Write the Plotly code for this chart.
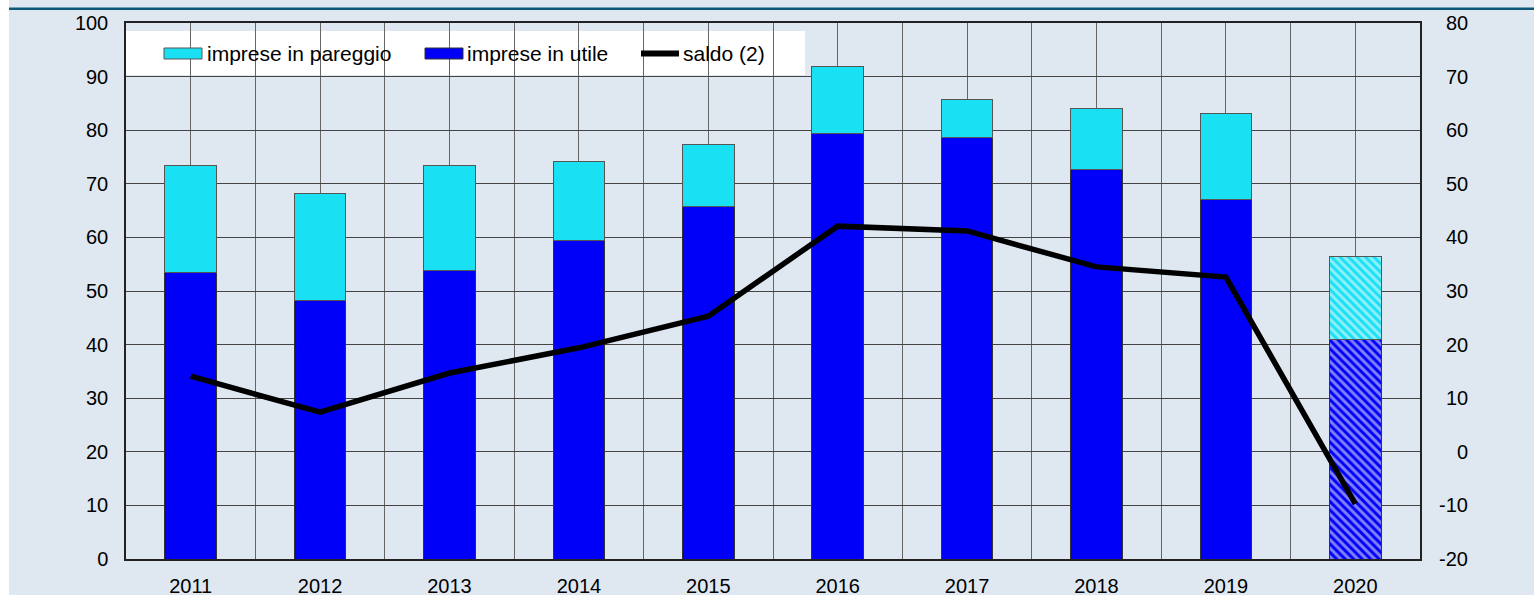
import plotly.graph_objects as go

years = ["2011", "2012", "2013", "2014", "2015", "2016", "2017", "2018", "2019", "2020"]
totale = [73.5, 68.1, 73.5, 74.1, 77.4, 91.8, 85.8, 84.0, 83.2, 56.5]
utile = [53.5, 48.3, 53.9, 59.5, 65.7, 79.3, 78.7, 72.6, 67.0, 41.0]
pareggio = [round(t - u, 1) for t, u in zip(totale, utile)]
saldo = [14.1, 7.4, 14.7, 19.4, 25.3, 42.1, 41.2, 34.5, 32.6, -9.7]
left_ticks = list(range(0, 101, 10))
right_ticks = list(range(-20, 81, 10))

CYAN = "#1ae0f4"
BLUE = "#0000f8"
FONT = "Liberation Sans, Arial, sans-serif"

xs = list(range(len(years)))
patterns = ["" if y != "2020" else "\\" for y in years]

fig = go.Figure()
fig.add_trace(go.Bar(
    x=xs, y=utile, name="imprese in utile", width=0.4,
    marker=dict(color=BLUE, line=dict(color="#333333", width=1),
                pattern=dict(shape=patterns, fgcolor="white", size=6, solidity=0.5)),
    showlegend=False,
))
fig.add_trace(go.Bar(
    x=xs, y=pareggio, name="imprese in pareggio", width=0.4,
    marker=dict(color=CYAN, line=dict(color="#555555", width=1),
                pattern=dict(shape=patterns, fgcolor="white", size=6, solidity=0.5)),
    showlegend=False,
))
fig.add_trace(go.Scatter(
    x=xs, y=saldo, name="saldo (2)", mode="lines", yaxis="y2",
    line=dict(color="black", width=5.5), showlegend=False,
))

W, H = 1534, 596
PW, PH = 1294, 536
L, T = 126, 23


def px(xp):
    return (xp - L) / PW


def py(yp):
    return (T + PH - yp) / PH


shapes = [
    dict(type="rect", xref="paper", yref="paper", x0=px(9), x1=px(W), y0=py(595), y1=py(0),
         fillcolor="#dfe8f1", line=dict(width=0), layer="below"),
    dict(type="line", xref="paper", yref="paper", x0=px(9), x1=px(W), y0=py(8.7), y1=py(8.7),
         line=dict(color="#0f5878", width=2.5)),
    dict(type="rect", xref="paper", yref="paper", x0=0, x1=px(805), y0=py(75), y1=py(31),
         fillcolor="white", line=dict(width=0), layer="between"),
    dict(type="rect", xref="paper", yref="paper", x0=px(164), x1=px(202), y0=py(59), y1=py(48),
         fillcolor=CYAN, line=dict(color="#555555", width=1)),
    dict(type="rect", xref="paper", yref="paper", x0=px(425), x1=px(463), y0=py(59), y1=py(48),
         fillcolor=BLUE, line=dict(color="#333333", width=1)),
    dict(type="line", xref="paper", yref="paper", x0=px(641), x1=px(679), y0=py(53.5), y1=py(53.5),
         line=dict(color="black", width=6)),
]

annotations = [
    dict(text="imprese in pareggio", xref="paper", yref="paper", x=px(205), y=py(53.5),
         xanchor="left", yanchor="middle", showarrow=False, font=dict(size=21, color="black", family=FONT)),
    dict(text="imprese in utile", xref="paper", yref="paper", x=px(465), y=py(53.5),
         xanchor="left", yanchor="middle", showarrow=False, font=dict(size=21, color="black", family=FONT)),
    dict(text="saldo (2)", xref="paper", yref="paper", x=px(681), y=py(53.5),
         xanchor="left", yanchor="middle", showarrow=False, font=dict(size=21, color="black", family=FONT)),
]
for v in right_ticks:
    annotations.append(dict(text=str(v), xref="paper", yref="y2", x=px(1470), y=v,
                            xanchor="right", yanchor="middle", showarrow=False,
                            font=dict(size=20, color="black", family=FONT)))

fig.update_layout(
    width=W, height=H, autosize=False,
    margin=dict(l=L, r=W - L - PW, t=T, b=H - T - PH),
    paper_bgcolor="white", plot_bgcolor="white",
    barmode="stack", bargap=0.6,
    font=dict(family=FONT, size=20, color="black"),
    xaxis=dict(
        range=[-0.5, len(years) - 0.5], tickvals=xs, ticktext=years, automargin=False,
        showgrid=True, gridcolor="#666666", gridwidth=1,
        showline=True, linecolor="#222222", linewidth=1.5, mirror=True,
        ticks="", ticklabelstandoff=8, zeroline=False,
        minor=dict(tickvals=[i + 0.5 for i in xs[:-1]], showgrid=True, gridcolor="#666666",
                   gridwidth=1, ticks=""),
    ),
    yaxis=dict(
        range=[0, 100], tickvals=left_ticks, automargin=False,
        showgrid=True, gridcolor="#444444", gridwidth=1,
        showline=True, linecolor="#222222", linewidth=1.5, mirror=True,
        ticks="", ticklabelstandoff=12, zeroline=False,
    ),
    yaxis2=dict(
        range=[-20, 80], tickvals=right_ticks, overlaying="y", side="right", automargin=False,
        showgrid=False, showticklabels=False, zeroline=False, showline=False,
    ),
    shapes=shapes, annotations=annotations,
)

fig.write_html(
    "out.html",
    config={"responsive": False, "displayModeBar": False},
    post_script="document.body.style.margin='0';document.body.style.overflow='hidden';",
)
